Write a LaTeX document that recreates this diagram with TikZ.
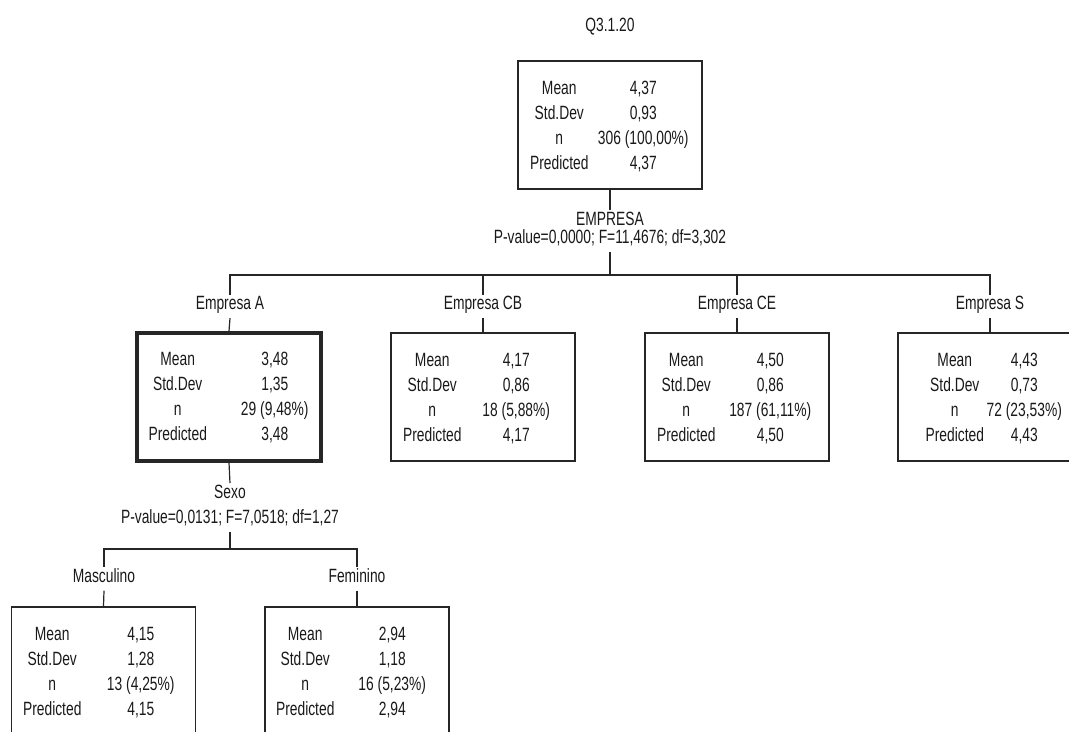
\documentclass[tikz,border=0pt]{standalone}
\usepackage{fontspec}
\setmainfont{Liberation Sans}[FakeStretch=0.72]
\begin{document}
\begin{tikzpicture}[x=0.75pt,y=-0.75pt,
  txt/.style={font=\fontsize{14.4pt}{16pt}\selectfont, text=black!90},
  lbl/.style={txt, anchor=base, inner xsep=0pt, inner ysep=3.75pt,
              text height=0.716em, text depth=0.25em},
  cell/.style={txt, anchor=base, inner sep=0pt},
  statbox/.style={draw=black!85, line width=1.1pt, minimum width=138pt, minimum height=96pt,
                  inner sep=0pt},
  thickbox/.style={statbox, line width=2.6pt},
  link/.style={draw=black!85, line width=0.9pt}]
\useasboundingbox (0,0) rectangle (1069,731);
\clip (0,0) rectangle (1069,731);

% four statistic rows of a tree node: name, label offset, value offset, values
\newcommand\statrows[7]{%
  \node[cell] (#1-a) at ([shift={(#2,34)}]#1.north west) {Mean};
  \node[cell] (#1-b) at ([shift={(#2,59)}]#1.north west) {Std.Dev};
  \node[cell] (#1-c) at ([shift={(#2,84)}]#1.north west) {n};
  \node[cell] (#1-d) at ([shift={(#2,109)}]#1.north west) {Predicted};
  \node[cell] (#1-av) at ([shift={(#3,34)}]#1.north west) {#4};
  \node[cell] (#1-bv) at ([shift={(#3,59)}]#1.north west) {#5};
  \node[cell] (#1-cv) at ([shift={(#3,84)}]#1.north west) {#6};
  \node[cell] (#1-dv) at ([shift={(#3,109)}]#1.north west) {#7};
}

% root
\node[cell] (title) at (610,32) {Q3.1.20};
\node[statbox] (root) at (610,125) {};
\statrows{root}{42}{126}{4,37}{0,93}{306 (100,00\%)}{4,37}
\node[lbl] (split1) at (610,225) {EMPRESA};
\node[lbl] (test1) at (610,243) {P-value=0,0000; F=11,4676; df=3,302};
\coordinate (bar1) at (610,275);

% first level
\node[lbl] (lA) at (230,309.5) {Empresa A};
\node[lbl] (lCB) at (483,309.5) {Empresa CB};
\node[lbl] (lCE) at (737,309.5) {Empresa CE};
\node[lbl] (lS) at (990,309.5) {Empresa S};

\node[thickbox] (bA) at (229,397) {};
\statrows{bA}{42.5}{139.5}{3,48}{1,35}{29 (9,48\%)}{3,48}
\node[statbox] (bCB) at (483,397) {};
\statrows{bCB}{42}{126}{4,17}{0,86}{18 (5,88\%)}{4,17}
\node[statbox] (bCE) at (737,397) {};
\statrows{bCE}{42}{126}{4,50}{0,86}{187 (61,11\%)}{4,50}
\node[statbox] (bS) at (990,397) {};
\statrows{bS}{57.5}{127}{4,43}{0,73}{72 (23,53\%)}{4,43}

% second level under Empresa A
\node[lbl] (split2) at (230,498) {Sexo};
\node[lbl] (test2) at (230,523) {P-value=0,0131; F=7,0518; df=1,27};
\coordinate (bar2) at (230,549);
\node[lbl] (lM) at (104,582) {Masculino};
\node[lbl] (lF) at (357,582) {Feminino};
\node[statbox] (bM) at (103.5,671) {};
\statrows{bM}{41.5}{130}{4,15}{1,28}{13 (4,25\%)}{4,15}
\node[statbox] (bF) at (357,671) {};
\statrows{bF}{41}{128}{2,94}{1,18}{16 (5,23\%)}{2,94}

% connectors
\path[link] (root.south) -- (split1.north);
\path[link] (test1.south) -- (bar1);
\path[link] (lA.north) -- (lA.north |- bar1) -- (lS.north |- bar1) -- (lS.north);
\path[link] (lCB.north) -- (lCB.north |- bar1);
\path[link] (lCE.north) -- (lCE.north |- bar1);
\path[link] (lA.south) -- (bA.north);
\path[link] (lCB.south) -- (bCB.north);
\path[link] (lCE.south) -- (bCE.north);
\path[link] (lS.south) -- (bS.north);
\path[link] (bA.south) -- (split2.north);
\path[link] (test2.south) -- (bar2);
\path[link] (lM.north) -- (lM.north |- bar2) -- (lF.north |- bar2) -- (lF.north);
\path[link] (lM.south) -- (bM.north);
\path[link] (lF.south) -- (bF.north);
\end{tikzpicture}
\end{document}
